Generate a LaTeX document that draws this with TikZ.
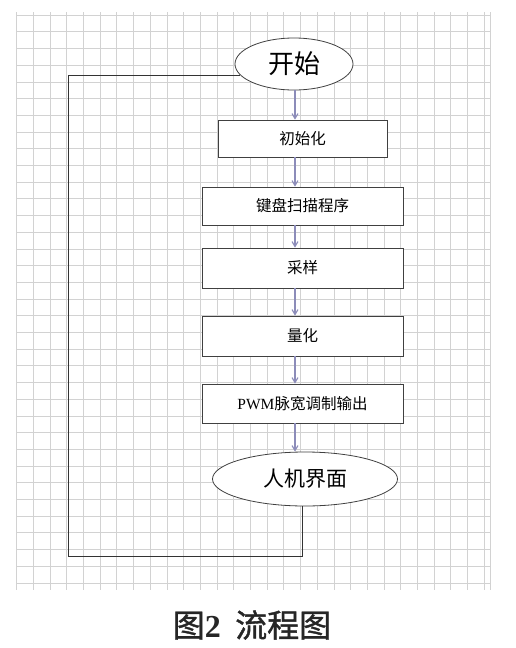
\documentclass[tikz,border=0pt]{standalone}
\usepackage{fontspec}
\setmainfont{Liberation Serif}
\newfontfamily\cjk{Noto Sans CJK SC}
\newfontfamily\cjkcap[FakeBold=1.2]{Noto Sans CJK SC}
\usetikzlibrary{shapes.geometric,arrows.meta}
\definecolor{gridc}{RGB}{210,210,210}
\definecolor{flowc}{RGB}{140,140,185}
\tikzset{
  gridline/.style={gridc, line width=0.6pt},
  procbox/.style={draw=black!75, line width=0.8pt, fill=white, rectangle, inner sep=0pt, font=\cjk\fontsize{15.5}{15.5}\selectfont},
  termnode/.style={draw=black!75, line width=0.8pt, fill=white, ellipse, inner sep=0pt},
  flow/.style={flowc, line width=1.1pt, -{Straight Barb[length=5pt,width=6pt]}},
  loopline/.style={black!80, line width=0.9pt}
}
\begin{document}
\begin{tikzpicture}[x=1pt,y=-1pt]
\useasboundingbox (0,0) rectangle (515,648);
\fill[white] (0,0) rectangle (515,648);
% grid
\foreach \i in {0,...,28} \draw[gridline] ({16.5+\i*16.7},12) -- ({16.5+\i*16.7},590);
\draw[gridline] (490,12) -- (490,590);
\foreach \j in {0,...,34} \draw[gridline] (16.5,{15+\j*16.7}) -- (490,{15+\j*16.7});
% helper coordinates
\coordinate (ax) at (295,0);
\coordinate (lx) at (302,0);
\coordinate (cl) at (68,556);
% nodes
\node[termnode, minimum width=118pt, minimum height=52pt, font=\cjk\fontsize{26}{26}\selectfont] (start) at (294,64) {开始};
\node[procbox, minimum width=169pt, minimum height=37pt] (b1) at (302.5,138.5) {初始化};
\node[procbox, minimum width=201pt, minimum height=38pt] (b2) at (302.5,206) {键盘扫描程序};
\node[procbox, minimum width=201pt, minimum height=40pt] (b3) at (302.5,268) {采样};
\node[procbox, minimum width=201pt, minimum height=40pt] (b4) at (302.5,336) {量化};
\node[procbox, minimum width=201pt, minimum height=39pt] (b5) at (302.5,403.5) {{\rmfamily PWM}脉宽调制输出};
\node[termnode, minimum width=185pt, minimum height=54pt, font=\cjk\fontsize{21}{21}\selectfont] (end) at (305,479) {人机界面};
% arrows
\draw[flow] (start.south -| ax) -- (b1.north -| ax);
\draw[flow] (b1.south -| ax) -- (b2.north -| ax);
\draw[flow] (b2.south -| ax) -- (b3.north -| ax);
\draw[flow] (b3.south -| ax) -- (b4.north -| ax);
\draw[flow] (b4.south -| ax) -- (b5.north -| ax);
\draw[flow] (b5.south -| ax) -- (end.north -| ax);
% loop back
\draw[loopline] (end.south -| lx) |- (cl) |- (start.192);
% caption
\node[font=\cjkcap\fontsize{32}{32}\selectfont, text=black!85] (cap) at (252,625) {图{\rmfamily\bfseries 2}\hspace{0.45em}流程图};
\end{tikzpicture}
\end{document}
